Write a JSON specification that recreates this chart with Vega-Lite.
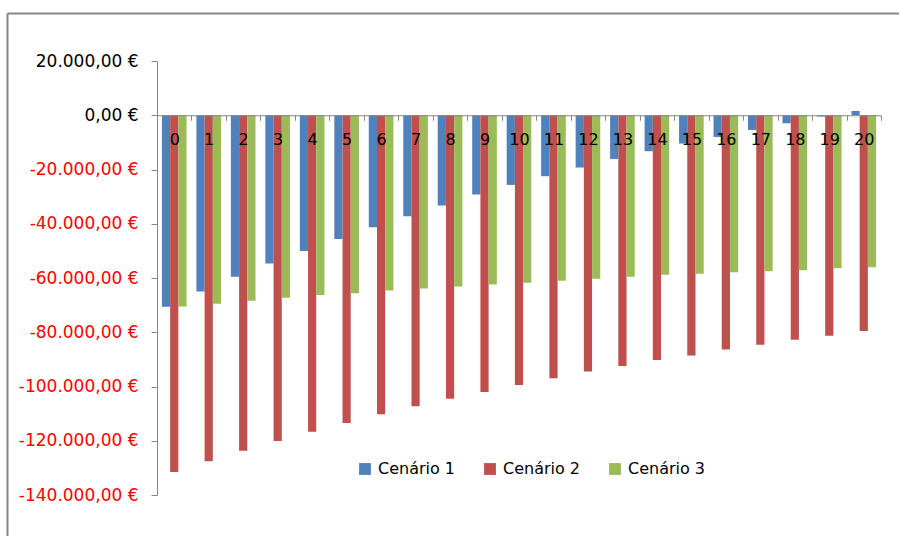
{
  "$schema": "https://vega.github.io/schema/vega-lite/v6.json",
  "width": 892,
  "height": 523,
  "autosize": {"type": "none"},
  "padding": {"left": 7, "top": 13, "right": 0, "bottom": 0},
  "background": "white",
  "config": {
    "font": "DejaVu Sans",
    "view": {"stroke": null},
    "locale": {
      "number": {"decimal": ",", "thousands": ".", "grouping": [3], "currency": ["", " €"], "minus": "-"}
    }
  },
  "data": {
    "values": [
      {"periodo": 0, "cenario": "Cenário 1", "valor": -70600},
      {"periodo": 1, "cenario": "Cenário 1", "valor": -64950},
      {"periodo": 2, "cenario": "Cenário 1", "valor": -59570},
      {"periodo": 3, "cenario": "Cenário 1", "valor": -54640},
      {"periodo": 4, "cenario": "Cenário 1", "valor": -50000},
      {"periodo": 5, "cenario": "Cenário 1", "valor": -45600},
      {"periodo": 6, "cenario": "Cenário 1", "valor": -41300},
      {"periodo": 7, "cenario": "Cenário 1", "valor": -37200},
      {"periodo": 8, "cenario": "Cenário 1", "valor": -33270},
      {"periodo": 9, "cenario": "Cenário 1", "valor": -29210},
      {"periodo": 10, "cenario": "Cenário 1", "valor": -25680},
      {"periodo": 11, "cenario": "Cenário 1", "valor": -22470},
      {"periodo": 12, "cenario": "Cenário 1", "valor": -19270},
      {"periodo": 13, "cenario": "Cenário 1", "valor": -16100},
      {"periodo": 14, "cenario": "Cenário 1", "valor": -13260},
      {"periodo": 15, "cenario": "Cenário 1", "valor": -10430},
      {"periodo": 16, "cenario": "Cenário 1", "valor": -7990},
      {"periodo": 17, "cenario": "Cenário 1", "valor": -5420},
      {"periodo": 18, "cenario": "Cenário 1", "valor": -2950},
      {"periodo": 19, "cenario": "Cenário 1", "valor": -480},
      {"periodo": 20, "cenario": "Cenário 1", "valor": 1580},
      {"periodo": 0, "cenario": "Cenário 2", "valor": -131520},
      {"periodo": 1, "cenario": "Cenário 2", "valor": -127580},
      {"periodo": 2, "cenario": "Cenário 2", "valor": -123670},
      {"periodo": 3, "cenario": "Cenário 2", "valor": -120100},
      {"periodo": 4, "cenario": "Cenário 2", "valor": -116670},
      {"periodo": 5, "cenario": "Cenário 2", "valor": -113470},
      {"periodo": 6, "cenario": "Cenário 2", "valor": -110260},
      {"periodo": 7, "cenario": "Cenário 2", "valor": -107320},
      {"periodo": 8, "cenario": "Cenário 2", "valor": -104510},
      {"periodo": 9, "cenario": "Cenário 2", "valor": -102050},
      {"periodo": 10, "cenario": "Cenário 2", "valor": -99470},
      {"periodo": 11, "cenario": "Cenário 2", "valor": -97000},
      {"periodo": 12, "cenario": "Cenário 2", "valor": -94500},
      {"periodo": 13, "cenario": "Cenário 2", "valor": -92470},
      {"periodo": 14, "cenario": "Cenário 2", "valor": -90260},
      {"periodo": 15, "cenario": "Cenário 2", "valor": -88530},
      {"periodo": 16, "cenario": "Cenário 2", "valor": -86320},
      {"periodo": 17, "cenario": "Cenário 2", "valor": -84620},
      {"periodo": 18, "cenario": "Cenário 2", "valor": -82780},
      {"periodo": 19, "cenario": "Cenário 2", "valor": -81300},
      {"periodo": 20, "cenario": "Cenário 2", "valor": -79570},
      {"periodo": 0, "cenario": "Cenário 3", "valor": -70550},
      {"periodo": 1, "cenario": "Cenário 3", "valor": -69520},
      {"periodo": 2, "cenario": "Cenário 3", "valor": -68410},
      {"periodo": 3, "cenario": "Cenário 3", "valor": -67310},
      {"periodo": 4, "cenario": "Cenário 3", "valor": -66310},
      {"periodo": 5, "cenario": "Cenário 3", "valor": -65580},
      {"periodo": 6, "cenario": "Cenário 3", "valor": -64580},
      {"periodo": 7, "cenario": "Cenário 3", "valor": -63840},
      {"periodo": 8, "cenario": "Cenário 3", "valor": -63110},
      {"periodo": 9, "cenario": "Cenário 3", "valor": -62370},
      {"periodo": 10, "cenario": "Cenário 3", "valor": -61780},
      {"periodo": 11, "cenario": "Cenário 3", "valor": -61040},
      {"periodo": 12, "cenario": "Cenário 3", "valor": -60310},
      {"periodo": 13, "cenario": "Cenário 3", "valor": -59570},
      {"periodo": 14, "cenario": "Cenário 3", "valor": -58830},
      {"periodo": 15, "cenario": "Cenário 3", "valor": -58460},
      {"periodo": 16, "cenario": "Cenário 3", "valor": -57840},
      {"periodo": 17, "cenario": "Cenário 3", "valor": -57470},
      {"periodo": 18, "cenario": "Cenário 3", "valor": -57100},
      {"periodo": 19, "cenario": "Cenário 3", "valor": -56370},
      {"periodo": 20, "cenario": "Cenário 3", "valor": -56000}
    ]
  },
  "layer": [
    {
      "mark": {"type": "bar"},
      "encoding": {
        "x": {
          "field": "periodo",
          "type": "ordinal",
          "scale": {"range": [150, 874], "paddingInner": 0, "paddingOuter": 0},
          "axis": {
            "title": null,
            "orient": "bottom",
            "offset": -420.75,
            "tickBand": "extent",
            "tickSize": 5,
            "tickColor": "#868686",
            "domainColor": "#868686",
            "labelFont": "DejaVu Sans",
            "labelFontSize": 16,
            "labelColor": "#000000",
            "labelPadding": 11,
            "labelAngle": 0,
            "zindex": 1
          }
        },
        "xOffset": {
          "field": "cenario",
          "scale": {"paddingOuter": 0.6, "paddingInner": 0}
        },
        "y": {
          "field": "valor",
          "type": "quantitative",
          "scale": {"domain": [-140000, 20000], "range": [482, 48], "nice": false},
          "axis": {
            "title": null,
            "orient": "left",
            "offset": -150,
            "grid": false,
            "values": [20000, 0, -20000, -40000, -60000, -80000, -100000, -120000, -140000],
            "format": "$,.2f",
            "tickSize": 6,
            "tickColor": "#868686",
            "domainColor": "#868686",
            "labelFont": "DejaVu Sans",
            "labelFontSize": 17,
            "labelPadding": 13,
            "labelColor": {"condition": {"test": "datum.value < 0", "value": "#ff0000"}, "value": "#000000"},
            "zindex": 1
          }
        },
        "color": {
          "field": "cenario",
          "type": "nominal",
          "scale": {
            "domain": ["Cenário 1", "Cenário 2", "Cenário 3"],
            "range": ["#4F81BD", "#C0504D", "#9BBB59"]
          },
          "legend": {
            "title": null,
            "orient": "none",
            "legendX": 350,
            "legendY": 448,
            "direction": "horizontal",
            "symbolType": "square",
            "symbolSize": 140,
            "symbolStrokeWidth": 0,
            "symbolOpacity": 1,
            "labelFont": "DejaVu Sans",
            "labelFontSize": 16,
            "labelColor": "#000000",
            "labelOffset": 5,
            "columnPadding": 26,
            "padding": 0
          }
        }
      }
    },
    {
      "mark": {"type": "point", "opacity": 0},
      "encoding": {
        "x": {
          "field": "periodo",
          "type": "ordinal",
          "axis": {
            "title": null, "orient": "top", "offset": 0, "ticks": false, "labels": false,
            "grid": false, "domainColor": "#868686", "domainWidth": 2, "zindex": 1
          }
        },
        "y": {
          "field": "valor",
          "type": "quantitative",
          "axis": {
            "title": null, "orient": "left", "offset": 0, "ticks": false, "labels": false,
            "grid": false, "domainColor": "#868686", "domainWidth": 2, "zindex": 1
          }
        }
      }
    }
  ],
  "resolve": {
    "scale": {"x": "independent", "y": "independent"},
    "axis": {"x": "independent", "y": "independent"}
  }
}
